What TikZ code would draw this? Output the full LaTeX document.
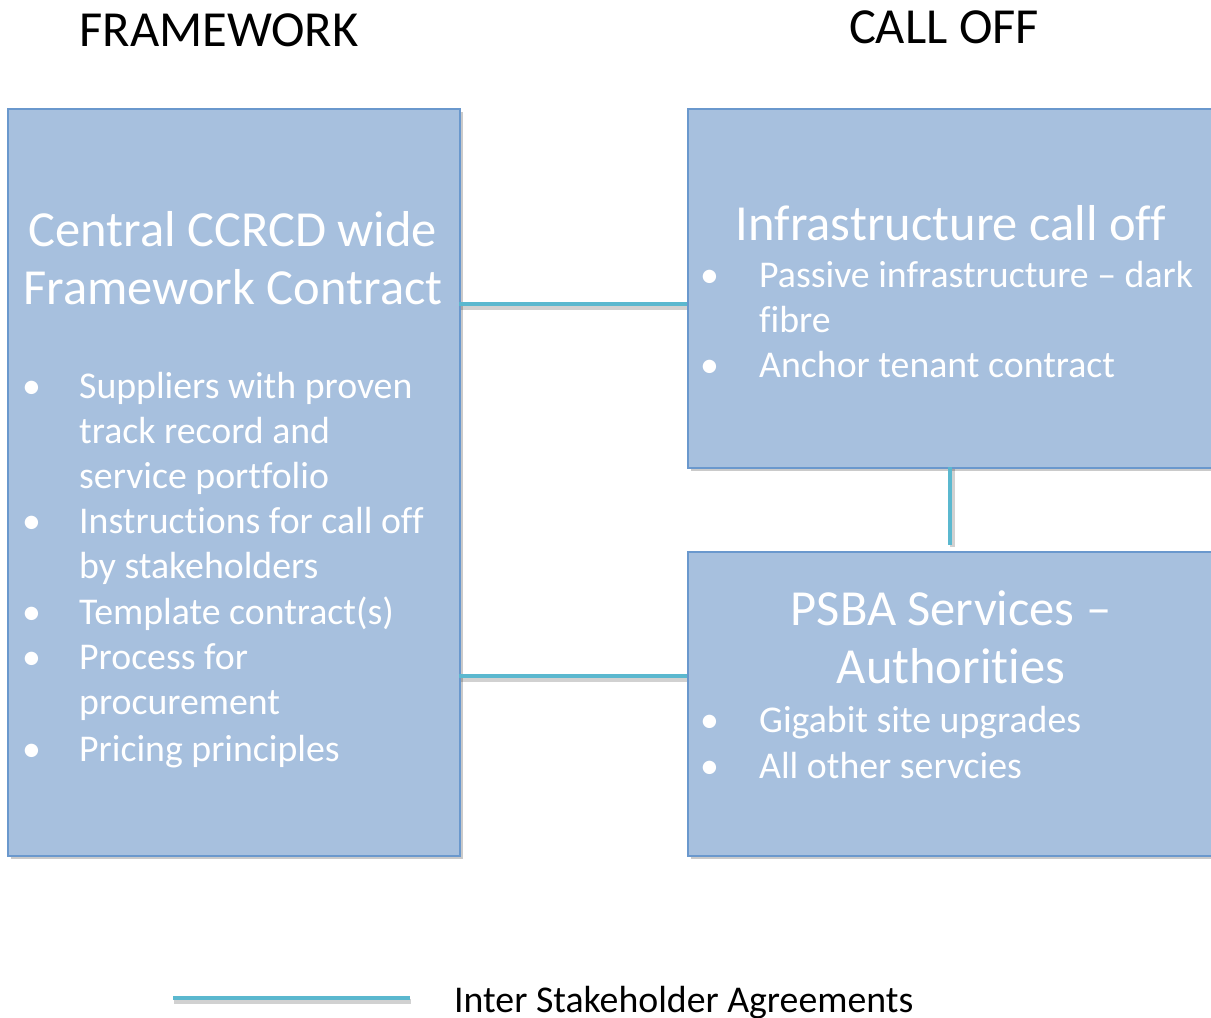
\documentclass[tikz,border=0pt]{standalone}
\usepackage{fontspec}
\setmainfont[Ligatures={NoCommon}]{Carlito}
\usetikzlibrary{shadows,positioning}
\definecolor{boxfill}{HTML}{A7C0DE}
\definecolor{boxline}{HTML}{6A98CD}
\definecolor{link}{HTML}{5BB8CF}
\tikzset{
  x=1pt,y=-1pt,
  panel/.style={draw=boxline,line width=1.6pt,fill=boxfill,
    drop shadow={shadow xshift=3pt,shadow yshift=-3pt,opacity=0.35,fill=black!60}},
  heading/.style={font=\fontsize{50.5}{56}\selectfont,text=black,inner sep=0pt,anchor=base},
  titletext/.style={font=\fontsize{50.5}{58}\selectfont,text=white,inner sep=0pt,anchor=base,align=center},
  bullettext/.style={font=\fontsize{37.8}{45}\selectfont,text=white,inner sep=0pt,anchor=base west,align=left},
  dot/.style={font=\fontsize{37.8}{45}\selectfont,text=white,inner sep=0pt,anchor=base west},
  linkline/.style={draw=link,line width=4pt},
  linkshadow/.style={draw=black,opacity=0.18,line width=5pt},
}
\begin{document}
\begin{tikzpicture}
\useasboundingbox (0,0) rectangle (1211,1018);
% boxes
\node[panel,minimum width=452pt,minimum height=747pt,anchor=north west,inner sep=0pt] (fw) at (7,108) {};
\node[panel,minimum width=530pt,minimum height=359pt,anchor=north west,inner sep=0pt] (infra) at (687,108) {};
\node[panel,minimum width=530pt,minimum height=304pt,anchor=north west,inner sep=0pt] (psba) at (687,551) {};
% headings
\node[heading] (hfw) at (219,46) {FRAMEWORK};
\node[heading] (hco) at (944,43) {CALL OFF};
% framework text (anchor base = last line)
\node[titletext] (fwtitle) at (233,304) {Central CCRCD wide\\Framework Contract};
\node[dot] (b1) at (22,398) {•};
\node[bullettext] (t1) at (79,488) {Suppliers with proven\\track record and\\service portfolio};
\node[dot] (b2) at (22,533) {•};
\node[bullettext] (t2) at (79,578) {Instructions for call off\\by stakeholders};
\node[dot] (b3) at (22,624) {•};
\node[bullettext] (t3) at (79,624) {Template contract(s)};
\node[dot] (b4) at (22,669) {•};
\node[bullettext] (t4) at (79,714) {Process for\\procurement};
\node[dot] (b5) at (22,761) {•};
\node[bullettext] (t5) at (79,761) {Pricing principles};
% infrastructure text
\node[titletext] (intitle) at (951,240) {Infrastructure call off};
\node[dot] (b6) at (700,287) {•};
\node[bullettext] (t6) at (759,332) {Passive infrastructure – dark\\fibre};
\node[dot] (b7) at (700,377) {•};
\node[bullettext] (t7) at (759,377) {Anchor tenant contract};
% psba text
\node[titletext] (pstitle) at (951,683) {PSBA Services –\\Authorities};
\node[dot] (b8) at (700,732) {•};
\node[bullettext] (t8) at (759,732) {Gigabit site upgrades};
\node[dot] (b9) at (700,778) {•};
\node[bullettext] (t9) at (759,778) {All other servcies};
% connectors
\coordinate (fwA) at (459,304);
\coordinate (inA) at (687,304);
\coordinate (fwB) at (459,676);
\coordinate (psB) at (687,676);
\coordinate (inC) at (950,467);
\coordinate (psC) at (950,545);
\draw[linkshadow] ([shift={(2,3)}]fwA) -- ([shift={(0,3)}]inA);
\draw[linkshadow] ([shift={(2,3)}]fwB) -- ([shift={(0,3)}]psB);
\draw[linkshadow] ([shift={(2,2)}]inC) -- ([shift={(2,2)}]psC);
\draw[linkline] (fwA) -- (inA);
\draw[linkline] (fwB) -- (psB);
\draw[linkline] (inC) -- (psC);
% legend
\coordinate (lgA) at (173,998);
\coordinate (lgB) at (410,998);
\draw[linkshadow] ([shift={(1,3)}]lgA) -- ([shift={(1,3)}]lgB);
\draw[linkline] (lgA) -- (lgB);
\node[heading,font=\fontsize{37.8}{40}\selectfont,anchor=base west] (lgtext) at (454,1012) {Inter Stakeholder Agreements};
\end{tikzpicture}
\end{document}
